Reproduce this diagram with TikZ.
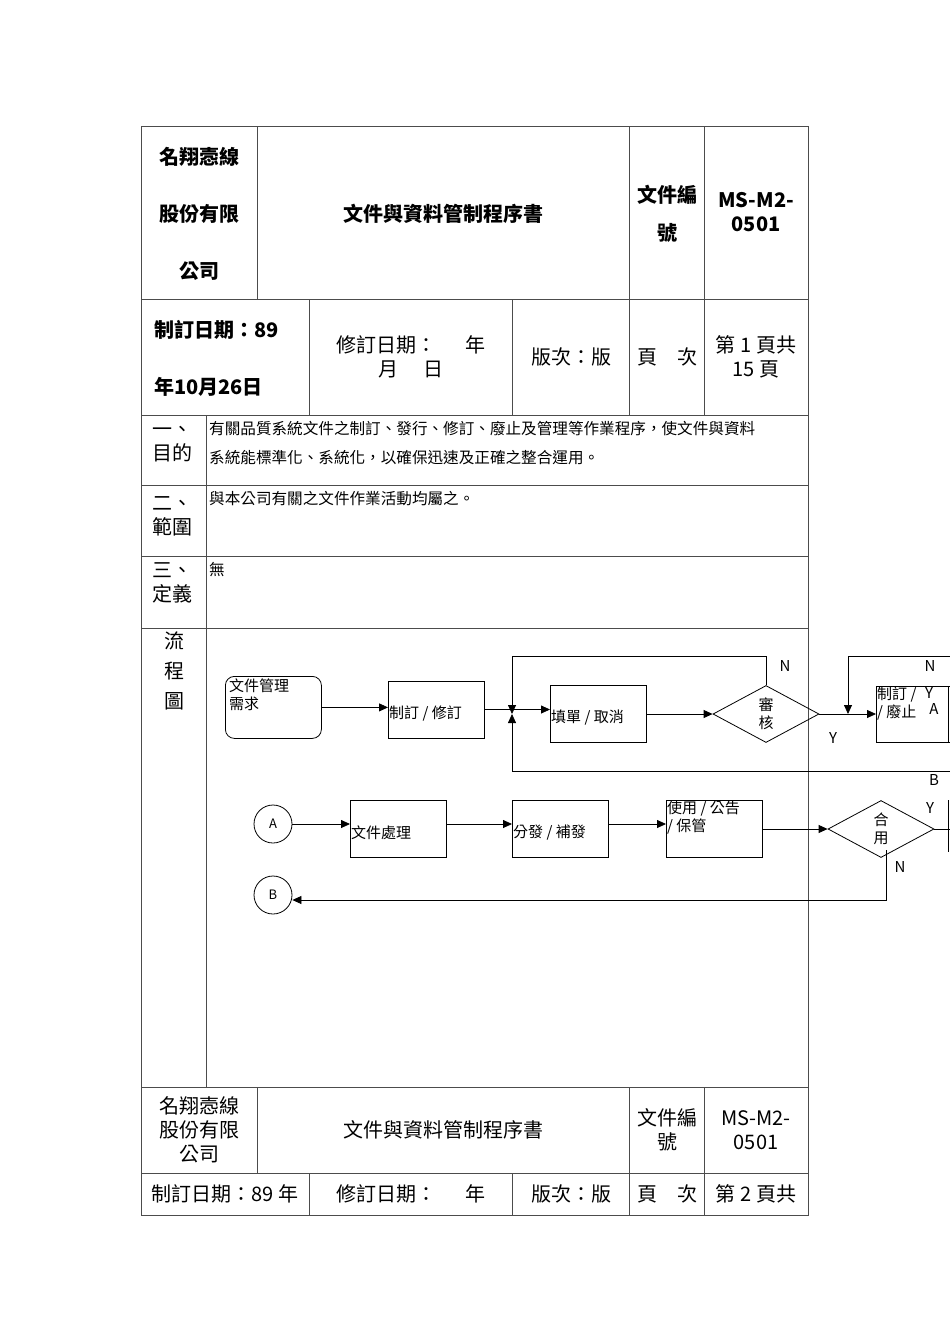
\documentclass[tikz,border=0pt]{standalone}
\usepackage{fontspec}
\setmainfont{Noto Sans CJK TC}
\usetikzlibrary{shapes.geometric,arrows.meta}
\begin{document}
\begin{tikzpicture}[x=1pt,y=-1pt,
 lab/.style={font=\fontsize{20}{24}\selectfont,inner sep=0},
 txt/.style={font=\fontsize{15.6}{29}\selectfont,inner sep=0,anchor=north west},
 fbox/.style={draw,thick,minimum width=96pt,minimum height=57pt,anchor=north west},
 ft/.style={font=\fontsize{15}{18}\selectfont,inner sep=1pt},
 con/.style={thick,-{Triangle[length=9pt,width=8pt]}},
 ln/.style={thick}]
\useasboundingbox (0,0) rectangle (950,1344);
\begin{scope}[line width=1pt,draw=black!70]
\draw (141,126) rectangle (808,1215);
\foreach \y in {299,415,485,556,628,1087,1173} \draw (141,\y)--(808,\y);
\draw (257,126)--(257,299) (629,126)--(629,415) (704,126)--(704,415);
\draw (309,299)--(309,415) (512,299)--(512,415);
\draw (206,415)--(206,1087);
\draw (257,1087)--(257,1173) (629,1087)--(629,1215) (704,1087)--(704,1215);
\draw (309,1173)--(309,1215) (512,1173)--(512,1215);
\end{scope}
% header
\node[lab,font=\bfseries\fontsize{20}{24}\selectfont] (h1) at (199,157) {名翔悫線};
\node[lab,font=\bfseries\fontsize{20}{24}\selectfont] (h2) at (199,214) {股份有限};
\node[lab,font=\bfseries\fontsize{20}{24}\selectfont] (h3) at (199,271) {公司};
\node[lab,font=\bfseries\fontsize{20}{24}\selectfont] (t1) at (443,214) {文件與資料管制程序書};
\node[lab,font=\bfseries\fontsize{20}{24}\selectfont,align=center] (t2) at (667,214) {文件編\\[14pt]號};
\node[lab,font=\bfseries\fontsize{20}{24}\selectfont,align=center] (t3) at (756,212) {MS-M2-\\0501};
\node[lab,font=\bfseries\fontsize{20}{24}\selectfont,anchor=west] (d1) at (154,330) {制訂日期：89};
\node[lab,font=\bfseries\fontsize{20}{24}\selectfont,anchor=west] (d2) at (154,387) {年10月26日};
\node[lab,align=center] (d3) at (411,357) {修訂日期：\quad\ \ 年\\月\quad\ 日};
\node[lab] (d4) at (571,357) {版次：版};
\node[lab] (d5) at (667,357) {頁\quad 次};
\node[lab,align=center] (d6) at (756,357) {第 1 頁共\\15 頁};
% sections
\node[lab,align=left,anchor=north west] (s1) at (152,426) {一、\\目的};
\node[txt,align=left] (s1t) at (209,421) {有關品質系統文件之制訂、發行、修訂、廢止及管理等作業程序，使文件與資料\\系統能標準化、系統化，以確保迅速及正確之整合運用。};
\node[lab,align=left,anchor=north west] (s2) at (152,496) {二、\\範圍};
\node[txt] (s2t) at (209,491) {與本公司有關之文件作業活動均屬之。};
\node[lab,align=left,anchor=north west] (s3) at (152,562) {三、\\定義};
\node[txt] (s3t) at (209,562) {無};
\node[lab,align=center,anchor=north] (s4) at (174,632) {流\\[6pt]程\\[6pt]圖};
% footer
\node[lab,align=center] (f1) at (199,1130) {名翔悫線\\股份有限\\公司};
\node[lab] (f2) at (443,1130) {文件與資料管制程序書};
\node[lab,align=center] (f3) at (667,1130) {文件編\\號};
\node[lab,align=center] (f4) at (756,1130) {MS-M2-\\0501};
\node[lab] (f5) at (225,1194) {制訂日期：89 年};
\node[lab] (f6) at (411,1194) {修訂日期：\quad\ \ 年};
\node[lab] (f7) at (571,1194) {版次：版};
\node[lab] (f8) at (667,1194) {頁\quad 次};
\node[lab] (f9) at (756,1194) {第 2 頁共};
% flow row 1
\node[draw,thick,rounded corners=9pt,minimum width=96pt,minimum height=62pt,anchor=north west] (n1) at (225,676) {};
\node[ft,anchor=north west,align=left] at ([xshift=3pt,yshift=-2pt]n1.north west) {文件管理\\需求};
\node[fbox] (n2) at (388,681) {};
\node[ft,anchor=west] at ([yshift=-4pt]n2.west) {制訂 / 修訂};
\coordinate (j) at (512,709.5);
\node[fbox] (n3) at (550,685) {};
\node[ft,anchor=west] at ([yshift=-4pt]n3.west) {填單 / 取消};
\node[draw,thick,diamond,aspect=1.85,minimum width=106pt,minimum height=57pt,inner sep=0] (n4) at (766,714) {};
\node[ft,align=center] at (n4) {審\\核};
\node[draw,thick,minimum width=80pt,minimum height=56pt,anchor=north west] (n5) at (876,686) {};
\node[ft,anchor=north west,align=left] at (876,686) {制訂 /\\/ 廢止};
\draw[con] (n1.east) -- (n2.west|-n1.east);
\draw[ln] (n2.east|-j) -- (j);
\draw[con] (j) -- (n3.west|-j);
\draw[con] (n3.east|-n4) -- (n4.west);
\draw[con] (n4.east) -- (n5.west|-n4);
\draw[ln] (n4.north) -- (766,656) -- (512,656);
\draw[con] (512,656) -- (512,714);
\draw[con] (512,771) -- (512,714);
\draw[ln] (512,771) -- (950,771);
\draw[ln] (950,656) -- (848,656);
\draw[con] (848,656) -- (848,714);
\draw[ln] (948,742) -- (948,686);
\node[ft] at (785,666) {N};
\node[ft] at (833,738) {Y};
\node[ft] at (930,666) {N};
\node[ft] at (929,693) {Y};
\node[ft] at (934,709) {A};
\node[ft] at (934,780) {B};
% flow row 2
\node[draw,thick,circle,minimum size=38pt,inner sep=0] (a) at (273,824) {};
\node[ft,font=\fontsize{13}{15}\selectfont] at (a) {A};
\node[fbox] (m1) at (350,800) {};
\node[ft,anchor=west] at ([yshift=-4pt]m1.west) {文件處理};
\node[fbox] (m2) at (512,800) {};
\node[ft,anchor=west] at ([yshift=-4pt]m2.west) {分發 / 補發};
\node[fbox] (m3) at (666,800) {};
\node[ft,anchor=north west,align=left] at (m3.north west) {使用 / 公告\\/ 保管};
\node[draw,thick,diamond,aspect=1.85,minimum width=106pt,minimum height=57pt,inner sep=0] (m4) at (881,829) {};
\node[ft,align=center] at (m4) {合\\用};
\node[draw,thick,circle,minimum size=38pt,inner sep=0] (b) at (273,895) {};
\node[ft,font=\fontsize{13}{15}\selectfont] at (b) {B};
\draw[con] (a.east) -- (m1.west|-a);
\draw[con] (m1.east|-a) -- (m2.west|-a);
\draw[con] (m2.east|-a) -- (m3.west|-a);
\draw[con] (m3.east|-m4) -- (m4.west);
\draw[ln] (m4.east) -- (950,829);
\draw[con] (886,850) -- (886,900) -- (b.east|-886,900);
\draw[ln] (948,800) -- (948,852);
\node[ft] at (930,808) {Y};
\node[ft] at (900,867) {N};
\end{tikzpicture}
\end{document}
